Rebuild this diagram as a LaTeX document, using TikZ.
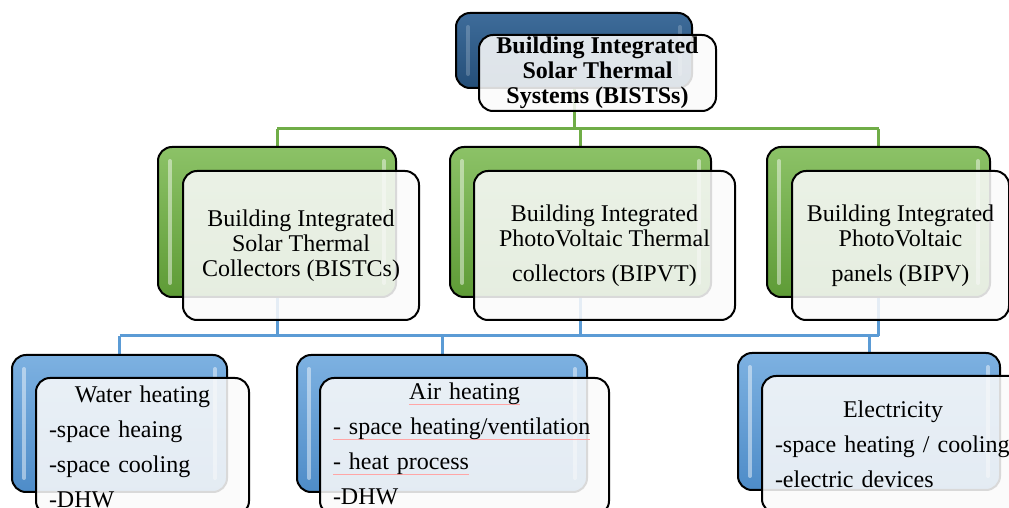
\documentclass[tikz,border=0pt]{standalone}
\usepackage{fontspec}
\setmainfont{Liberation Serif}
\usetikzlibrary{backgrounds}

\definecolor{topblueA}{HTML}{3E6C9A}
\definecolor{topblueB}{HTML}{244E78}
\definecolor{grA}{HTML}{8CC267}
\definecolor{grB}{HTML}{5E9B36}
\definecolor{blA}{HTML}{7DB1E1}
\definecolor{blB}{HTML}{4E8CC8}
\definecolor{grline}{HTML}{70AD47}
\definecolor{blline}{HTML}{5B9BD5}

% faint spell-check underline, as in the source figure
\newcommand\squig[1]{\leavevmode\setbox0\hbox{#1}\rlap{\color{red!35}\rule[-2.5pt]{\wd0}{0.5pt}}\box0}
% centred title line inside a left-aligned card
\newcommand\ctitle[1]{\leavevmode\hbox to\hsize{\hfil#1\hfil}}

\begin{document}
\begin{tikzpicture}[
  x=0.5pt, y=-0.5pt,
  font=\fontsize{12}{12.5}\selectfont,
  back/.style={draw=black, line width=1pt, rounded corners=7pt, inner sep=0pt, outer sep=0pt},
  topback/.style={back, top color=topblueA, bottom color=topblueB},
  grback/.style={back, top color=grA, bottom color=grB, minimum height=75pt},
  blback/.style={back, top color=blA, bottom color=blB, minimum height=68.5pt},
  front/.style={draw=black, line width=1pt, rounded corners=7pt, fill=black!2,
                fill opacity=0.87, text opacity=1, outer sep=0pt},
  grfront/.style={front, align=center, inner sep=0pt, minimum height=74.5pt},
  blfront/.style={front, align=left, inner xsep=6.5pt, inner ysep=0pt, minimum height=68.5pt,
                  font=\fontsize{12}{17.5}\selectfont},
  gline/.style={draw=grline, line width=1.5pt},
  bline/.style={draw=blline, line width=1.5pt},
  hl/.style={line width=2pt, line cap=round, draw=white, draw opacity=#1},
  hl/.default=0.45
]
\useasboundingbox (0,0) rectangle (1009,508);
\clip (0,0) rectangle (1009,508);

% ---- back panels
\node[topback, minimum width=118pt, minimum height=37.5pt] (topb) at (574,50.5) {};
\node[grback, minimum width=119pt]   (g1b) at (277,222) {};
\node[grback, minimum width=130.5pt] (g2b) at (580.5,222) {};
\node[grback, minimum width=111.5pt] (g3b) at (878.5,222) {};
\node[blback, minimum width=107.5pt] (b1b) at (119.5,423.5) {};
\node[blback, minimum width=145pt]   (b2b) at (442,423.5) {};
\node[blback, minimum width=131pt]   (b3b) at (869,421.5) {};

% ---- light edges on the panels
\foreach \n/\o in {topb/0.2,g1b/0.45,g2b/0.45,g3b/0.45,b1b/0.45,b2b/0.45,b3b/0.45} {
  \draw[hl=\o] ([xshift=6pt,yshift=-7pt]\n.north west) -- ([xshift=6pt,yshift=7pt]\n.south west);
  \draw[hl=\o] ([xshift=-6pt,yshift=-7pt]\n.north east) -- ([xshift=-6pt,yshift=7pt]\n.south east);
}

% ---- text cards
\node[front, align=center, inner sep=0pt, minimum width=118.5pt, minimum height=38pt,
      font=\fontsize{12}{12.5}\selectfont\bfseries] (topf) at (597.5,73)
  {Building Integrated\\Solar Thermal\\Systems (BISTSs)};
\node[grfront, minimum width=118pt]   (g1f) at (301,245.5)
  {Building Integrated\\Solar Thermal\\Collectors (BISTCs)};
\node[grfront, minimum width=130.5pt] (g2f) at (604.5,245.5)
  {Building Integrated\\PhotoVoltaic Thermal\\[5pt]collectors (BIPVT)};
\node[grfront, minimum width=108.5pt] (g3f) at (900.5,245.5)
  {Building Integrated\\PhotoVoltaic\\[5pt]panels (BIPV)};
\node[blfront, minimum width=106.5pt, text width=93.5pt] (b1f) at (142.5,446.5)
  {\ctitle{Water heating}\\-space heaing\\-space cooling\\-DHW};
\node[blfront, minimum width=144.5pt, text width=131.5pt] (b2f) at (464.5,446.5)
  {\ctitle{\squig{Air heating}}\\\squig{- space heating/ventilation}\\
   \squig{- heat process}\\\squig{-DHW}};
\node[blfront, minimum width=131pt, text width=118pt] (b3f) at (893,444.5)
  {\ctitle{Electricity}\\-space heating / cooling\\-electric devices};

% ---- connectors
\coordinate (gbus) at (574,129);
\coordinate (bbus) at (277,336);
\begin{scope}[on background layer]
  \draw[gline] (topb.center) -- (topb.center |- gbus);
  \draw[gline] (g1b.center |- gbus) -- (g3b.center |- gbus);
  \foreach \n in {g1b,g2b,g3b} \draw[gline] (\n.center |- gbus) -- (\n.center);
  \draw[bline] (b1b.center |- bbus) -- (g3b.center |- bbus);
  \foreach \n in {g1b,g2b,g3b,b1b,b2b,b3b} \draw[bline] (\n.center) -- (\n.center |- bbus);
\end{scope}
\end{tikzpicture}
\end{document}
